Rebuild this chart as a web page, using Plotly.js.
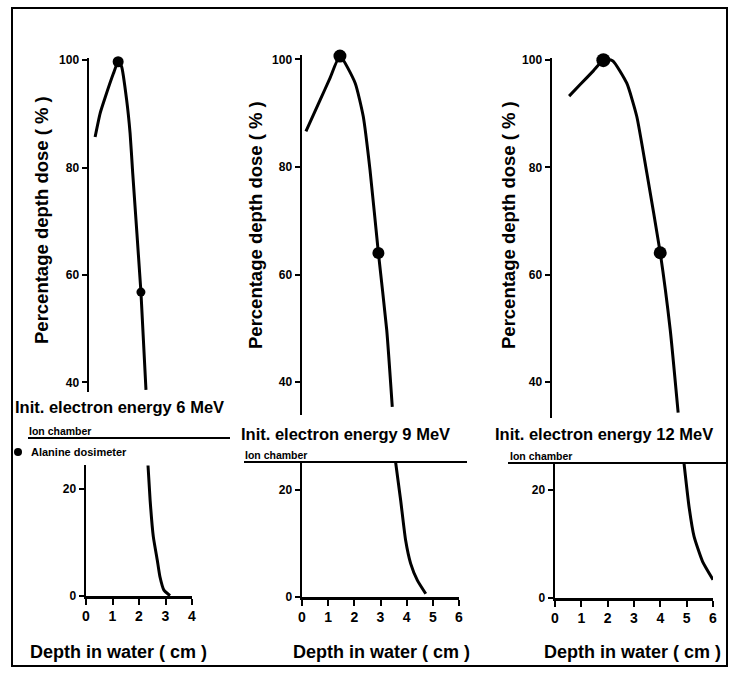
<!DOCTYPE html>
<html>
<head>
<meta charset="utf-8">
<script src="https://cdn.plot.ly/plotly-3.0.1.min.js"></script>
<style>html,body{margin:0;padding:0;background:#fff;}#chart{width:731px;height:680px;}</style>
</head>
<body>
<div id="chart"></div>
<script>
// ---------- data ----------
const energies = ["6", "9", "12"];

// 6 MeV – ion chamber, upper part (build-up + peak + fall-off)
const ion6DepthUpper = [0.23, 0.42, 0.6, 0.92, 1.1, 1.23, 1.42, 1.55, 1.65, 1.96, 2.15];
const ion6DoseUpper  = [85.7, 90.1, 92.9, 97.5, 99.7, 98.8, 92.6, 86.4, 78.9, 56.8, 38.6];
// 6 MeV – lower part (tail)
const ion6DepthLower = [2.34, 2.42, 2.54, 2.69, 2.79, 2.94, 3.17];
const ion6DoseLower  = [24.4, 17.9, 11.1, 6.7, 3.6, 1.1, 0.05];
const ala6Depth = [1.1, 1.96];
const ala6Dose  = [99.7, 56.8];

// 9 MeV
const ion9DepthUpper = [0.15, 0.69, 1.07, 1.45, 2.03, 2.34, 2.6, 2.92, 3.24, 3.45];
const ion9DoseUpper  = [86.6, 92.4, 96.5, 100.6, 95.6, 89.4, 79.4, 64.0, 49.6, 35.4];
const ion9DepthLower = [3.58, 3.77, 3.96, 4.15, 4.41, 4.73];
const ion9DoseLower  = [25.1, 18.1, 10.6, 6.3, 3.1, 0.6];
const ala9Depth = [1.45, 2.92];
const ala9Dose  = [100.6, 64.0];

// 12 MeV
const ion12DepthUpper = [0.65, 1.06, 1.57, 1.95, 2.3, 2.84, 3.22, 3.6, 4.11, 4.49, 4.79];
const ion12DoseUpper  = [93.3, 95.4, 98.0, 100.0, 99.9, 95.7, 89.5, 79.0, 64.1, 49.7, 34.3];
const ion12DepthLower = [4.9, 5.09, 5.28, 5.6, 6.0];
const ion12DoseLower  = [24.9, 16.9, 11.4, 6.8, 3.4];
const ala12Depth = [1.95, 4.11];
const ala12Dose  = [100.0, 64.1];

const upperTicks = [40, 60, 80, 100];
const lowerTicks = [0, 20];
const xTicks4 = [0, 1, 2, 3, 4];
const xTicks6 = [0, 1, 2, 3, 4, 5, 6];

const titleText = "Init. electron energy {E} MeV";
const yTitle = "Percentage depth dose ( % )";
const xTitle = "Depth in water ( cm )";
const ionLabel = "Ion chamber";
const alaLabel = "Alanine dosimeter";

// ---------- layout helpers (pixel -> paper) ----------
const W = 731, H = 680;
const fx = p => p / W;
const fy = p => 1 - p / H;

const FONT = "Liberation Sans, Arial, sans-serif";
const tickFont = {family: FONT, size: 12, color: "#000", weight: 700};
const xTickFont = {family: FONT, size: 14, color: "#000", weight: 700};

function yAx(domTop, domBot, range, ticks, anchor) {
  return {domain: [fy(domBot), fy(domTop)], range: range, tickvals: ticks,
    showline: true, linecolor: "#000", linewidth: 2.5, ticks: "outside", ticklen: 5,
    tickwidth: 2, tickcolor: "#000", showgrid: false, zeroline: false,
    tickfont: tickFont, anchor: anchor, fixedrange: true};
}
function xHidden(left, right, range, anchor) {
  return {domain: [fx(left), fx(right)], range: range, visible: false, anchor: anchor,
    showgrid: false, zeroline: false, fixedrange: true};
}
function xAx(left, right, range, ticks, anchor) {
  return {domain: [fx(left), fx(right)], range: range, tickvals: ticks,
    showline: true, linecolor: "#000", linewidth: 2.5, ticks: "outside", ticklen: 6,
    tickwidth: 2, tickcolor: "#000", showgrid: false, zeroline: false,
    tickfont: xTickFont, anchor: anchor, fixedrange: true};
}

const lineStyle = {color: "#000", width: 3, shape: "spline", smoothing: 0.5};
function curve(x, y, xa, ya) {
  return {x: x, y: y, xaxis: xa, yaxis: ya, mode: "lines", line: lineStyle,
    hoverinfo: "skip", showlegend: false, cliponaxis: false};
}
function pts(x, y, xa, ya, sizes) {
  return {x: x, y: y, xaxis: xa, yaxis: ya, mode: "markers",
    marker: {color: "#000", size: sizes, opacity: 1, line: {width: 0}},
    hoverinfo: "skip", showlegend: false, cliponaxis: false};
}

const data = [
  curve(ion6DepthUpper, ion6DoseUpper, "x", "y"),
  pts(ala6Depth, ala6Dose, "x", "y", [11, 9]),
  curve(ion6DepthLower, ion6DoseLower, "x2", "y2"),
  curve(ion9DepthUpper, ion9DoseUpper, "x3", "y3"),
  pts(ala9Depth, ala9Dose, "x3", "y3", [13, 12]),
  curve(ion9DepthLower, ion9DoseLower, "x4", "y4"),
  curve(ion12DepthUpper, ion12DoseUpper, "x5", "y5"),
  pts(ala12Depth, ala12Dose, "x5", "y5", [14, 13]),
  curve(ion12DepthLower, ion12DoseLower, "x6", "y6")
];

const layout = {
  width: W, height: H,
  margin: {l: 0, r: 0, t: 0, b: 0, pad: 0},
  paper_bgcolor: "#fff", plot_bgcolor: "rgba(0,0,0,0)",
  showlegend: false,
  font: {family: FONT, color: "#000"},
  // panel 1 (6 MeV)
  xaxis:  xHidden(89, 195, [0, 4], "y"),
  yaxis:  yAx(58, 392, [38.2, 100.4], upperTicks, "x"),
  xaxis2: xAx(86, 192, [0, 4], xTicks4, "y2"),
  yaxis2: yAx(465, 596, [0, 24.5], lowerTicks, "x2"),
  // panel 2 (9 MeV)
  xaxis3: xHidden(302, 459, [0, 6], "y3"),
  yaxis3: yAx(55, 415, [33.9, 100.8], upperTicks, "x3"),
  xaxis4: xAx(302, 459, [0, 6], xTicks6, "y4"),
  yaxis4: yAx(462, 597, [0, 25.25], lowerTicks, "x4"),
  // panel 3 (12 MeV)
  xaxis5: xHidden(552, 710, [0, 6], "y5"),
  yaxis5: yAx(58, 418, [33.3, 100.4], upperTicks, "x5"),
  xaxis6: xAx(555, 713, [0, 6], xTicks6, "y6"),
  yaxis6: yAx(463, 598, [0, 25], lowerTicks, "x6"),
  shapes: [
    {type: "rect", xref: "paper", yref: "paper", x0: fx(12), x1: fx(727), y0: fy(666), y1: fy(8),
      line: {color: "#000", width: 2}},
    {type: "line", xref: "paper", yref: "paper", x0: fx(28), x1: fx(230), y0: fy(438), y1: fy(438),
      line: {color: "#000", width: 2}},
    {type: "line", xref: "paper", yref: "paper", x0: fx(244), x1: fx(467), y0: fy(462), y1: fy(462),
      line: {color: "#000", width: 2}},
    {type: "line", xref: "paper", yref: "paper", x0: fx(508), x1: fx(727), y0: fy(463), y1: fy(463),
      line: {color: "#000", width: 2}},
    {type: "circle", xref: "paper", yref: "paper", x0: fx(14), x1: fx(22), y0: fy(456), y1: fy(448),
      fillcolor: "#000", line: {color: "#000", width: 0}}
  ],
  annotations: []
};

function txt(x, y, text, size, opts) {
  return Object.assign({xref: "paper", yref: "paper", x: fx(x), y: fy(y), text: text,
    showarrow: false, xanchor: "left", yanchor: "middle",
    font: {family: FONT, size: size, color: "#000", weight: 700}}, opts || {});
}
const ann = layout.annotations;
// energy titles
ann.push(txt(13, 407, titleText.replace("{E}", energies[0]), 16.5));
ann.push(txt(239, 434, titleText.replace("{E}", energies[1]), 16.5));
ann.push(txt(493, 434, titleText.replace("{E}", energies[2]), 16.5));
// legend texts
ann.push(txt(27, 432, ionLabel, 10.5, {yanchor: "bottom", y: fy(439)}));
ann.push(txt(243, 456, ionLabel, 10.5, {yanchor: "bottom", y: fy(463)}));
ann.push(txt(508, 457, ionLabel, 10.5, {yanchor: "bottom", y: fy(464)}));
ann.push(txt(29, 452, alaLabel, 11));
// y titles
ann.push(txt(42, 220, yTitle, 18.5, {xanchor: "center", textangle: -90}));
ann.push(txt(256, 225, yTitle, 18.5, {xanchor: "center", textangle: -90}));
ann.push(txt(509, 225, yTitle, 18.5, {xanchor: "center", textangle: -90}));
// x titles
ann.push(txt(118, 652, xTitle, 18, {xanchor: "center"}));
ann.push(txt(381, 652, xTitle, 18, {xanchor: "center"}));
ann.push(txt(632, 652, xTitle, 18, {xanchor: "center"}));

Plotly.newPlot("chart", data, layout, {staticPlot: true, displayModeBar: false});
</script>
</body>
</html>
